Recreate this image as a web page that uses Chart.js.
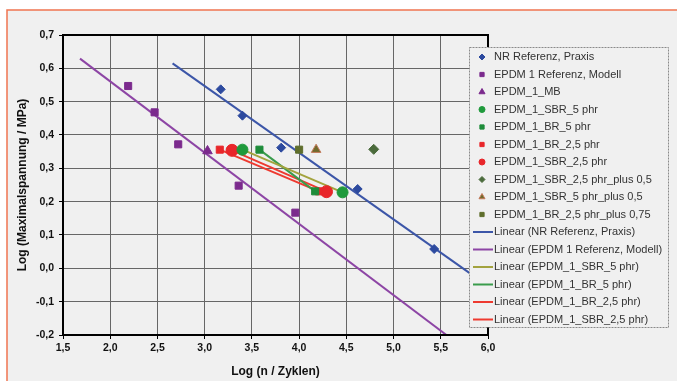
<!DOCTYPE html>
<html>
<head>
<meta charset="utf-8">
<script src="https://cdn.jsdelivr.net/npm/chart.js@4/dist/chart.umd.min.js"></script>
<style>
  html, body { margin: 0; padding: 0; background: #fff; }
  #wrap { width: 677px; height: 381px; }
</style>
</head>
<body>
<div id="wrap"><canvas id="wohlerChart" width="677" height="381"></canvas></div>
<script>
'use strict';

// measured points (x = log n, y = log sigma)
var nrReferenzX = [3.17, 3.40, 3.81, 4.62, 5.43];
var nrReferenzY = [0.537, 0.458, 0.362, 0.238, 0.058];
var epdmReferenzX = [2.19, 2.47, 2.72, 3.36, 3.96];
var epdmReferenzY = [0.547, 0.468, 0.372, 0.248, 0.167];
var epdmMbX = [3.03];
var epdmMbY = [0.352];
var sbr5X = [3.40, 4.46];
var sbr5Y = [0.356, 0.228];
var br5X = [3.58, 4.17];
var br5Y = [0.356, 0.231];
var br25X = [3.16, 4.21];
var br25Y = [0.356, 0.231];
var sbr25X = [3.29, 4.29];
var sbr25Y = [0.354, 0.230];
var sbr25PlusX = [4.79];
var sbr25PlusY = [0.357];
var sbr5PlusX = [4.18];
var sbr5PlusY = [0.356];
var br25PlusX = [4.00];
var br25PlusY = [0.356];

// trend line ends
var nrTrendX = [2.66, 5.90];
var nrTrendY = [0.615, -0.033];
var epdmTrendX = [1.68, 5.56];
var epdmTrendY = [0.629, -0.200];

var xTicks = [1.5, 2.0, 2.5, 3.0, 3.5, 4.0, 4.5, 5.0, 5.5, 6.0];
var yTicks = [-0.2, -0.1, 0.0, 0.1, 0.2, 0.3, 0.4, 0.5, 0.6, 0.7];

function pts(xs, ys) {
    return xs.map(function(x, i) { return { x: x, y: ys[i] }; });
}

function pointSet(label, xs, ys, style, color, radius, border) {
    return {
        label: label,
        data: pts(xs, ys),
        showLine: false,
        pointStyle: style,
        pointRadius: radius,
        pointBackgroundColor: color,
        pointBorderColor: border || color,
        pointBorderWidth: 1,
        isLine: false
    };
}

function lineSet(label, xs, ys, color) {
    return {
        label: label,
        data: pts(xs, ys),
        showLine: true,
        borderColor: color,
        borderWidth: 2,
        pointRadius: 0,
        isLine: true
    };
}

var datasets = [
    pointSet('NR Referenz, Praxis', nrReferenzX, nrReferenzY, 'rectRot', '#2d4a9f', 4.5),
    pointSet('EPDM 1 Referenz, Modell', epdmReferenzX, epdmReferenzY, 'rect', '#7b2a8d', 5),
    pointSet('EPDM_1_MB', epdmMbX, epdmMbY, 'triangle', '#7b2a8d', 5.5),
    pointSet('EPDM_1_SBR_5 phr', sbr5X, sbr5Y, 'circle', '#1f9a3c', 5.5),
    pointSet('EPDM_1_BR_5 phr', br5X, br5Y, 'rect', '#1e8c3a', 5),
    pointSet('EPDM_1_BR_2,5 phr', br25X, br25Y, 'rect', '#e8262a', 5),
    pointSet('EPDM_1_SBR_2,5 phr', sbr25X, sbr25Y, 'circle', '#e8262a', 6),
    pointSet('EPDM_1_SBR_2,5 phr_plus 0,5', sbr25PlusX, sbr25PlusY, 'rectRot', '#4b6b3c', 5),
    pointSet('EPDM_1_SBR_5 phr_plus 0,5', sbr5PlusX, sbr5PlusY, 'triangle', '#6f6a2c', 5.5, '#c47a5a'),
    pointSet('EPDM_1_BR_2,5 phr_plus 0,75', br25PlusX, br25PlusY, 'rect', '#5f6e2c', 5),
    lineSet('Linear (NR Referenz, Praxis)', nrTrendX, nrTrendY, '#3c56a8'),
    lineSet('Linear (EPDM 1 Referenz, Modell)', epdmTrendX, epdmTrendY, '#8d45a5'),
    lineSet('Linear (EPDM_1_SBR_5 phr)', sbr5X, sbr5Y, '#a3a33e'),
    lineSet('Linear (EPDM_1_BR_5 phr)', br5X, br5Y, '#3a9c4c'),
    lineSet('Linear (EPDM_1_BR_2,5 phr)', br25X, br25Y, '#ee3a30'),
    lineSet('Linear (EPDM_1_SBR_2,5 phr)', sbr25X, sbr25Y, '#ee3a30')
];

function commaLabel(v) {
    return Number(v).toFixed(1).replace('.', ',');
}

// page background with the orange frame
var framePlugin = {
    id: 'frame',
    beforeDraw: function(chart) {
        var ctx = chart.ctx;
        ctx.save();
        ctx.fillStyle = '#ffffff';
        ctx.fillRect(0, 0, chart.width, chart.height);
        ctx.fillStyle = '#f0f0f0';
        ctx.fillRect(7, 10, chart.width - 7, chart.height - 10);
        ctx.strokeStyle = '#f07450';
        ctx.lineWidth = 1.5;
        ctx.beginPath();
        ctx.moveTo(7, chart.height);
        ctx.lineTo(7, 10);
        ctx.lineTo(chart.width, 10);
        ctx.stroke();
        ctx.restore();
    },
    afterDatasetsDraw: function(chart) {
        var a = chart.chartArea;
        var ctx = chart.ctx;
        ctx.save();
        ctx.strokeStyle = '#000';
        ctx.lineWidth = 2;
        ctx.strokeRect(a.left, a.top, a.right - a.left, a.bottom - a.top);
        ctx.restore();
    }
};

// legend box drawn over the right edge of the plot, like the original
var boxLegendPlugin = {
    id: 'boxLegend',
    afterDraw: function(chart) {
        var ctx = chart.ctx;
        var left = 469, top = 47, width = 199, height = 280;
        var rowH = 17.5, firstY = 57;
        ctx.save();
        ctx.fillStyle = '#f0f0f0';
        ctx.fillRect(left, top, width, height);
        ctx.strokeStyle = '#8a8a8a';
        ctx.lineWidth = 1;
        ctx.setLineDash([2, 1]);
        ctx.strokeRect(left + 0.5, top + 0.5, width, height);
        ctx.setLineDash([]);
        ctx.font = '11px "Liberation Sans", Arial, sans-serif';
        ctx.textBaseline = 'middle';
        chart.data.datasets.forEach(function(ds, i) {
            var y = firstY + i * rowH;
            if (ds.isLine) {
                ctx.strokeStyle = ds.borderColor;
                ctx.lineWidth = 2;
                ctx.beginPath();
                ctx.moveTo(473, y);
                ctx.lineTo(493, y);
                ctx.stroke();
            } else {
                ctx.fillStyle = ds.pointBackgroundColor;
                ctx.strokeStyle = ds.pointBorderColor;
                ctx.lineWidth = 1;
                Chart.helpers.drawPoint(ctx, {
                    pointStyle: ds.pointStyle,
                    radius: ds.pointStyle === 'triangle' ? 3.5 : 3,
                    rotation: 0,
                    borderWidth: 1
                }, 482, y);
            }
            ctx.fillStyle = '#333';
            ctx.fillText(ds.label, 494, y);
        });
        ctx.restore();
    }
};

var gridStyle = {
    color: '#666666',
    lineWidth: 1,
    tickLength: 4,
    tickColor: '#000'
};

new Chart(document.getElementById('wohlerChart').getContext('2d'), {
    type: 'scatter',
    data: { datasets: datasets },
    options: {
        responsive: false,
        animation: false,
        devicePixelRatio: 1,
        layout: { padding: { left: 7, top: 35, right: 189, bottom: 0 } },
        plugins: {
            legend: { display: false },
            tooltip: { enabled: false }
        },
        scales: {
            x: {
                type: 'linear',
                min: 1.5,
                max: 6.0,
                afterBuildTicks: function(scale) {
                    scale.ticks = xTicks.map(function(v) { return { value: v }; });
                },
                afterFit: function(scale) { scale.height = 46; },
                grid: gridStyle,
                border: { display: false },
                ticks: {
                    color: '#111',
                    padding: 3,
                    maxRotation: 0,
                    font: { family: '"Liberation Sans", Arial, sans-serif', size: 10.5, weight: 'bold' },
                    callback: commaLabel
                },
                title: {
                    display: true,
                    text: 'Log (n / Zyklen)',
                    color: '#111',
                    padding: { top: 0, bottom: 2 },
                    font: { family: '"Liberation Sans", Arial, sans-serif', size: 12, weight: 'bold' }
                }
            },
            y: {
                type: 'linear',
                min: -0.2,
                max: 0.7,
                afterBuildTicks: function(scale) {
                    scale.ticks = yTicks.map(function(v) { return { value: v }; });
                },
                afterFit: function(scale) { scale.width = 56; },
                grid: gridStyle,
                border: { display: false },
                ticks: {
                    color: '#111',
                    padding: 5,
                    font: { family: '"Liberation Sans", Arial, sans-serif', size: 10.5, weight: 'bold' },
                    callback: commaLabel
                },
                title: {
                    display: true,
                    text: 'Log (Maximalspannung / MPa)',
                    color: '#111',
                    padding: { top: 8, bottom: 0 },
                    font: { family: '"Liberation Sans", Arial, sans-serif', size: 12, weight: 'bold' }
                }
            }
        }
    },
    plugins: [framePlugin, boxLegendPlugin]
});
</script>
</body>
</html>
